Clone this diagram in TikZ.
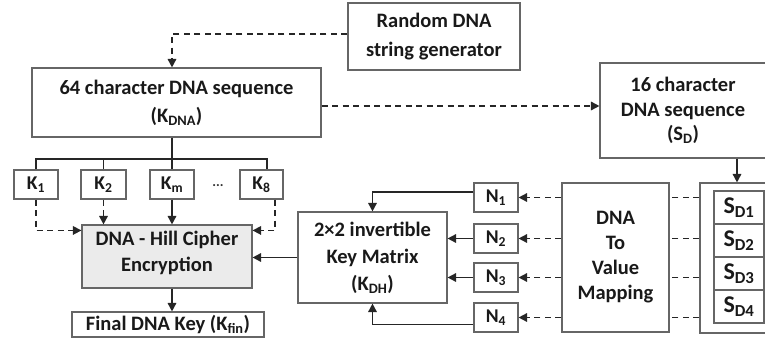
\documentclass[tikz,border=0pt]{standalone}
\usepackage{fontspec}
\setmainfont{Carlito}
\usetikzlibrary{arrows.meta,calc}
\newcommand\sbs[1]{\textsubscript{#1}}
\begin{document}
\begin{tikzpicture}[x=1pt,y=-1pt,
  box/.style={draw=black!60,line width=1.1pt,inner sep=0pt,align=center,
    font=\fontsize{20.5}{27}\selectfont\bfseries,text=black!90},
  small/.style={draw=black!60,line width=1.1pt,inner sep=0pt,
    font=\fontsize{19.5}{22}\selectfont\bfseries,text=black!90},
  conn/.style={draw=black!85,line width=1.6pt},
  arr/.style={conn,-{Triangle[length=8.5pt,width=8.5pt]}},
  dsh/.style={conn,dash pattern=on 6pt off 4.5pt},
  darr/.style={dsh,-{Triangle[length=8.5pt,width=8.5pt]}}]
\useasboundingbox (0,0) rectangle (765,340);
% boxes
\node[box,minimum width=172pt,minimum height=67pt,font=\fontsize{20.5}{29}\selectfont\bfseries] (rand) at (434,36.5) {Random DNA\\string generator};
\node[box,minimum width=289pt,minimum height=69pt,font=\fontsize{20.5}{28}\selectfont\bfseries] (kdna) at (176.5,102.5) {64 character DNA sequence\\(K\sbs{DNA})};
\node[box,minimum width=166pt,minimum height=95pt,font=\fontsize{20.5}{24.5}\selectfont\bfseries] (s16) at (683,110.5) {16 character\\DNA sequence\\(S\sbs{D})};
\node[box,minimum width=74pt,minimum height=150pt] (sdout) at (737,258) {};
\node[box,minimum width=50pt,minimum height=33pt,font=\fontsize{24}{26}\selectfont\bfseries] (c1) at (739,207.5) {S\sbs{D1}};
\node[box,minimum width=50pt,minimum height=33pt,font=\fontsize{24}{26}\selectfont\bfseries] (c2) at (739,240.5) {S\sbs{D2}};
\node[box,minimum width=50pt,minimum height=33pt,font=\fontsize{24}{26}\selectfont\bfseries] (c3) at (739,273.5) {S\sbs{D3}};
\node[box,minimum width=50pt,minimum height=33pt,font=\fontsize{24}{26}\selectfont\bfseries] (c4) at (739,306.5) {S\sbs{D4}};
\node[box,minimum width=107pt,minimum height=149pt,font=\fontsize{20.5}{25}\selectfont\bfseries] (map) at (615.5,257.5) {DNA\\To\\Value\\Mapping};
\node[small,minimum width=44pt,minimum height=29pt] (n1) at (496,197.5) {N\sbs{1}};
\node[small,minimum width=44pt,minimum height=29pt] (n2) at (496,238.5) {N\sbs{2}};
\node[small,minimum width=44pt,minimum height=29pt] (n3) at (496,277.5) {N\sbs{3}};
\node[small,minimum width=44pt,minimum height=29pt] (n4) at (496,317.5) {N\sbs{4}};
\node[box,minimum width=149pt,minimum height=91pt,font=\fontsize{20.5}{27}\selectfont\bfseries] (key) at (372.5,257.5) {2×2 invertible\\Key Matrix\\(K\sbs{DH})};
\node[box,fill=black!8,minimum width=170pt,minimum height=63pt,
  label={[yshift=4pt,align=center,font=\fontsize{20.5}{26}\selectfont\bfseries,text=black!90]center:DNA - Hill Cipher\\Encryption}] (hill) at (167,256.5) {};
\node[box,minimum width=192pt,minimum height=25pt] (final) at (168,324.5) {Final DNA Key (K\sbs{fin})};
\node[small,minimum width=44pt,minimum height=29pt] (k1) at (36,184.5) {K\sbs{1}};
\node[small,minimum width=45pt,minimum height=29pt] (k2) at (103.5,184.5) {K\sbs{2}};
\node[small,minimum width=44pt,minimum height=29pt] (km) at (172,184.5) {K\sbs{m}};
\node[small,minimum width=43pt,minimum height=29pt] (k8) at (261.5,184.5) {K\sbs{8}};
\node[font=\fontsize{14}{16}\selectfont\bfseries,text=black!80] (dots) at (218,186) {...};
% connectors top
\draw[darr] ($(rand.west)+(0,-2.5)$) -| ($(kdna.north)+(-4.5,0)$);
\draw[darr] ($(kdna.east)+(0,3.5)$) -- ($(kdna.east -| s16.west)+(0,3.5)$);
\draw[arr] (sdout.north |- s16.south) -- (sdout.north);
% tree
\coordinate (t) at (172,159);
\coordinate (k8t) at ($(k8.north)+(5.5,0)$);
\draw[conn] (km.north |- kdna.south) -- (km.north);
\draw[conn] (k1.north) -- (k1.north |- t) -- (k8t |- t) -- (k8t);
\draw[conn] (k2.north |- t) -- (k2.north);
% K to hill
\draw[darr] (k1.south) |- ($(hill.north west)+(0,6)$);
\draw[darr] (k2.south) -- (k2.south |- hill.north);
\draw[arr] (km.south) -- (km.south |- hill.north);
\draw[darr] ($(k8.south)+(13.5,0)$) |- ($(hill.north east)+(0,6)$);
\draw[arr] (hill.south -| final.north) ++(4,0) -- ($(final.north)+(4,0)$);
% right side
\foreach \n in {n1,n2,n3,n4}{
  \draw[dsh] (sdout.west |- \n) -- (map.east |- \n);
  \draw[darr] (map.west |- \n) -- (\n.east);
}
\draw[arr] ($(n1.west)+(0,-5.5)$) -| (key.north);
\draw[arr] (n2.west) -- (key.east |- n2);
\draw[arr] (n3.west) -- (key.east |- n3);
\draw[arr] ($(n4.west)+(0,7)$) -| (key.south);
\draw[arr] (key.west) -- (key.west -| hill.east);
\end{tikzpicture}
\end{document}
